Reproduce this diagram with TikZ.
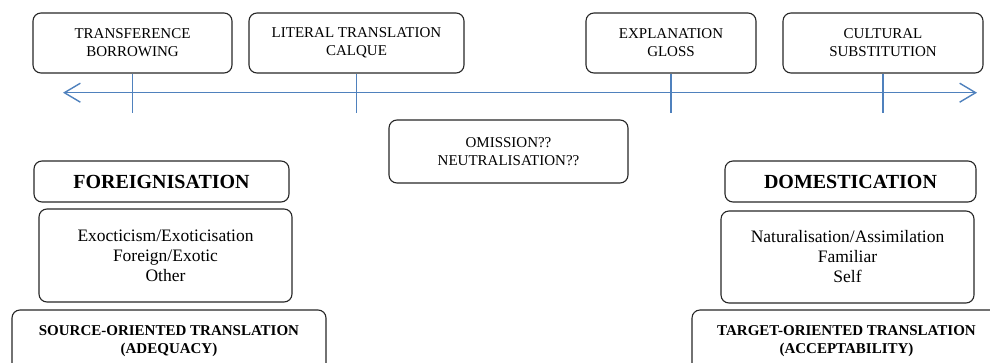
\documentclass[tikz,border=0pt]{standalone}
\usepackage{fontspec}
\setmainfont{Liberation Serif}
\usetikzlibrary{arrows.meta}
\definecolor{axisblue}{RGB}{79,129,189}
\definecolor{boxline}{RGB}{38,38,38}
\begin{document}
\begin{tikzpicture}[x=1pt,y=-1pt,
  box/.style={draw=boxline, line width=1.1pt, rounded corners=8pt, align=center, inner sep=0pt},
  topbox/.style={box, minimum height=60pt, font=\fontsize{15}{18}\selectfont},
  headbox/.style={box, minimum height=41pt, font=\fontsize{20}{24}\selectfont\bfseries},
  listbox/.style={box, font=\fontsize{17.5}{20}\selectfont},
  basebox/.style={box, minimum height=62pt, font=\fontsize{15}{17.5}\selectfont\bfseries},
  axisline/.style={draw=axisblue, line width=1.4pt},
  tickline/.style={draw=axisblue, line width=1.4pt}]
\clip (0,0) rectangle (990,362);
% top boxes
\node[topbox, minimum width=199pt] (t1) at (132.5,43) {TRANSFERENCE\\BORROWING};
\node[topbox, minimum width=215pt] (t2) at (356.5,43) {LITERAL TRANSLATION\\CALQUE};
\node[topbox, minimum width=170pt] (t3) at (671,43) {EXPLANATION\\GLOSS};
\node[topbox, minimum width=200pt] (t4) at (883,43) {CULTURAL\\SUBSTITUTION};
% axis
\coordinate (aL) at (63,92.7);
\coordinate (aR) at (977,92.7);
\draw[axisline, {Straight Barb[length=16pt,width=19pt,line width=1.4pt]}-{Straight Barb[length=16pt,width=19pt,line width=1.4pt]}] (aL) -- (aR);
\foreach \n in {1,2,3,4}{
  \coordinate (k\n) at (t\n.south |- 0,113);
  \draw[tickline] (t\n.south) -- (k\n);
}
% middle
\node[topbox, minimum width=239pt, minimum height=63pt] (om) at (508.5,151.5) {OMISSION??\\NEUTRALISATION??};
% left column
\node[headbox, minimum width=255pt] (fo) at (161.5,181.5) {FOREIGNISATION};
\node[listbox, minimum width=253pt, minimum height=93pt] (ex) at (165.5,255.5) {Exocticism/Exoticisation\\Foreign/Exotic\\Other};
\node[basebox, minimum width=314pt] (so) at (169,341) {SOURCE-ORIENTED TRANSLATION\\(ADEQUACY)};
% right column
\node[headbox, minimum width=251pt] (do) at (850.5,181.5) {DOMESTICATION};
\node[listbox, minimum width=253pt, minimum height=92pt] (na) at (847.5,257) {Naturalisation/Assimilation\\Familiar\\Self};
\node[basebox, minimum width=309pt] (ta) at (846.5,341) {TARGET-ORIENTED TRANSLATION\\(ACCEPTABILITY)};
\end{tikzpicture}
\end{document}
